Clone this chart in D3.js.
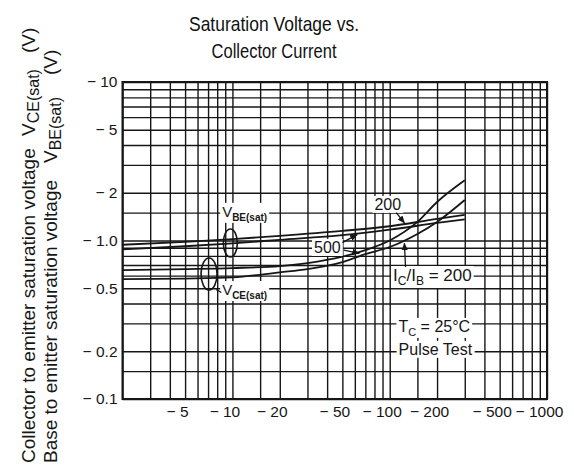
<!DOCTYPE html>
<html>
<head>
<meta charset="utf-8">
<script src="https://cdn.jsdelivr.net/npm/d3@7"></script>
<style>
body{margin:0;background:#fff;}
svg{display:block;font-family:"Liberation Sans",Arial,Helvetica,sans-serif;}
text{white-space:pre;}
</style>
</head>
<body>
<div id="plot"></div>
<script>
// data (absolute values; chart shows them with a minus sign)
var vceCurrent = [2, 5, 10, 20, 30, 50, 70, 100, 150, 200, 300];
var vce200 = [0.57, 0.575, 0.585, 0.63, 0.66, 0.73, 0.82, 0.91, 1.10, 1.31, 1.80];
var vce500 = [0.65, 0.66, 0.67, 0.69, 0.72, 0.79, 0.87, 1.00, 1.31, 1.75, 2.40];

var vbeCurrent = [2, 5, 10, 20, 50, 100, 200, 300];
var vbe200 = [0.94, 0.98, 1.02, 1.07, 1.15, 1.23, 1.37, 1.45];
var vbe500 = [0.88, 0.92, 0.96, 1.01, 1.08, 1.17, 1.29, 1.36];

var xTicks = [5, 10, 20, 50, 100, 200, 500, 1000];
var xTickLabels = ['\u2212 5', '\u2212 10', '\u2212 20', '\u2212 50', '\u2212 100', '\u2212 200', '\u2212 500', '\u2212 1000'];
var yTicks = [10, 5, 2, 1, 0.5, 0.2, 0.1];
var yTickLabels = ['\u2212 10', '\u2212 5', '\u2212 2', '\u2212 1.0', '\u2212 0.5', '\u2212 0.2', '\u2212 0.1'];

var xGrid = [2,3,4,5,6,7,8,9,10,15,20,30,40,50,60,70,80,90,100,150,200,300,400,500,600,700,800,900,1000];
var yGrid = [0.1,0.15,0.2,0.3,0.4,0.5,0.6,0.7,0.8,0.9,1,1.5,2,3,4,5,6,7,8,9,10];

//set up drawing area
var W = 574, H = 467;
var margin = {t:82, r:27, b:68, l:122.5};
var width = W - margin.l - margin.r,
	height = H - margin.t - margin.b;

var svg = d3.select('#plot')
	.append('svg')
	.attr('width', W)
	.attr('height', H);

var plot = svg.append('g')
	.attr('transform', 'translate(' + margin.l + ',' + margin.t + ')');

var x = d3.scaleLog().domain([2, 1000]).range([0, width]);
var y = d3.scaleLog().domain([0.1, 10]).range([height, 0]);

var ink = '#161616';

// grid
var gx = plot.append('g').attr('transform', 'translate(0,' + height + ')')
	.call(d3.axisBottom(x).tickValues(xGrid).tickSize(-height).tickFormat(''));
var gy = plot.append('g')
	.call(d3.axisLeft(y).tickValues(yGrid).tickSize(-width).tickFormat(''));
gx.select('.domain').remove();
gy.select('.domain').remove();
plot.selectAll('.tick line').attr('stroke', ink).attr('stroke-width', 1.4);

plot.append('rect')
	.attr('width', width)
	.attr('height', height)
	.attr('fill', 'none')
	.attr('stroke', ink)
	.attr('stroke-width', 2);

// tick labels
var xa = plot.append('g').attr('transform', 'translate(0,' + height + ')')
	.call(d3.axisBottom(x).tickValues(xTicks).tickSize(0).tickPadding(7)
		.tickFormat(function(d, i){ return xTickLabels[i]; }));
xa.select('.domain').remove();
xa.attr('font-family', null).attr('font-size', 15.5);
xa.selectAll('text').attr('fill', ink).attr('dx', -8);

var ya = plot.append('g')
	.call(d3.axisLeft(y).tickValues(yTicks).tickSize(0).tickPadding(5)
		.tickFormat(function(d, i){ return yTickLabels[i]; }));
ya.select('.domain').remove();
ya.attr('font-family', null).attr('font-size', 15.5);
ya.selectAll('text').attr('fill', ink);

// curves
var line = d3.line()
	.x(function(d){ return x(d[0]); })
	.y(function(d){ return y(d[1]); })
	.curve(d3.curveMonotoneX);

function drawCurve(xs, ys) {
	plot.append('path')
		.datum(xs.map(function(c, i){ return [c, ys[i]]; }))
		.attr('d', line)
		.attr('fill', 'none')
		.attr('stroke', ink)
		.attr('stroke-width', 1.8);
}
drawCurve(vbeCurrent, vbe200);
drawCurve(vbeCurrent, vbe500);
drawCurve(vceCurrent, vce200);
drawCurve(vceCurrent, vce500);

// annotations
var notes = [
	{parts:[{t:'200'}], ic:80, v:1.56, anchor:'start'},
	{parts:[{t:'500'}], ic:33, v:0.835, anchor:'start'},
	{parts:[{t:'I'},{t:'C',sub:1},{t:'/I'},{t:'B',sub:1},{t:' = 200'}], ic:105, v:0.555, anchor:'start', size:17},
	{parts:[{t:'T'},{t:'C',sub:1},{t:' = 25\u00b0C'}], ic:192, v:0.265, anchor:'middle'},
	{parts:[{t:'Pulse Test'}], ic:195, v:0.19, anchor:'middle'},
	{parts:[{t:'V'},{t:'BE(sat)',sub:1,bold:1}], ic:8.6, v:1.41, anchor:'start', size:15},
	{parts:[{t:'V'},{t:'CE(sat)',sub:1,bold:1}], ic:8.6, v:0.453, anchor:'start', size:15}
];

function richText(g, parts, size, subSize) {
	var t = g.append('text').attr('fill', ink).attr('font-size', size);
	var shift = 0;
	parts.forEach(function(p){
		var s = t.append('tspan').text(p.t);
		var want = p.sub ? 4 : 0;
		if (want != shift) { s.attr('dy', want - shift); shift = want; }
		if (p.sub) s.attr('font-size', subSize || Math.round(size * 0.68));
		if (p.size) s.attr('font-size', p.size);
		if (p.at != null) s.attr('x', p.at);
		if (p.bold) s.attr('font-weight', 'bold');
	});
	return t;
}

var noteLayer = plot.append('g');
notes.forEach(function(n){
	var g = noteLayer.append('g');
	var bg = g.append('rect').attr('fill', '#fff');
	var t = richText(g, n.parts, n.size || 16)
		.attr('x', x(n.ic))
		.attr('y', y(n.v))
		.attr('text-anchor', n.anchor);
	var b = t.node().getBBox();
	bg.attr('x', b.x - 2).attr('y', b.y).attr('width', b.width + 4).attr('height', b.height);
});

// ellipses round the curve pairs
var rings = [{ic:9.7, v:0.964, rx:7, ry:14}, {ic:7.1, v:0.615, rx:8, ry:16}];
plot.selectAll('.ring').data(rings).enter().append('ellipse')
	.attr('cx', function(d){ return x(d.ic); })
	.attr('cy', function(d){ return y(d.v); })
	.attr('rx', function(d){ return d.rx; })
	.attr('ry', function(d){ return d.ry; })
	.attr('fill', 'none')
	.attr('stroke', ink)
	.attr('stroke-width', 1.6);

// pointer lines
svg.append('defs').append('marker')
	.attr('id', 'ah')
	.attr('viewBox', '0 0 10 10')
	.attr('refX', 9).attr('refY', 5)
	.attr('markerWidth', 6).attr('markerHeight', 6)
	.attr('orient', 'auto')
	.append('path').attr('d', 'M0,1L10,5L0,9z').attr('fill', ink);

var pointers = [
	[[110, 1.50], [124, 1.29]],
	[[50, 0.97], [62, 1.09]],
	[[51, 0.87], [64, 0.83]],
	[[126, 0.68], [124, 0.96]],
	[[7.9, 0.49], [8.5, 0.47]]
];
plot.selectAll('.ptr').data(pointers).enter().append('line')
	.attr('x1', function(d){ return x(d[0][0]); })
	.attr('y1', function(d){ return y(d[0][1]); })
	.attr('x2', function(d){ return x(d[1][0]); })
	.attr('y2', function(d){ return y(d[1][1]); })
	.attr('stroke', ink)
	.attr('stroke-width', 1.3)
	.attr('marker-end', function(d, i){ return i < 4 ? 'url(#ah)' : null; });

// title
var title = svg.append('g').attr('fill', '#111').attr('font-size', 21).attr('text-anchor', 'middle');
title.append('text').attr('x', 274).attr('y', 31).attr('textLength', 170).attr('lengthAdjust', 'spacingAndGlyphs').text('Saturation Voltage vs.');
title.append('text').attr('x', 274).attr('y', 58).attr('textLength', 125).attr('lengthAdjust', 'spacingAndGlyphs').text('Collector Current');

// y axis titles
var yt1 = svg.append('g').attr('transform', 'translate(35,463) rotate(-90)');
richText(yt1, [{t:'Collector to emitter saturation voltage'},{t:'V', at:327, size:19},{t:'CE(sat)',sub:1},{t:'(V)', at:410, size:19}], 19, 16);
var yt2 = svg.append('g').attr('transform', 'translate(57,463) rotate(-90)');
richText(yt2, [{t:'Base to emitter saturation voltage'},{t:'V', at:300, size:19},{t:'BE(sat)',sub:1},{t:'(V)', at:388, size:19}], 19, 16);
</script>
</body>
</html>
